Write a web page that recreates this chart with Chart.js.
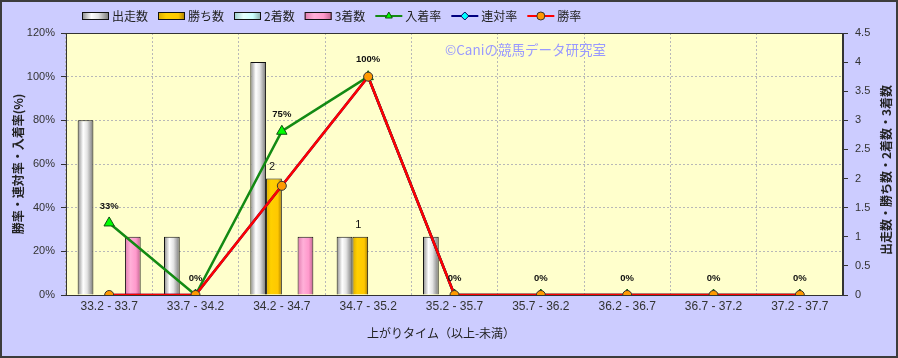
<!DOCTYPE html>
<html lang="ja">
<head>
<meta charset="utf-8">
<title>上がりタイム別成績</title>
<script src="https://cdn.jsdelivr.net/npm/chart.js@4.4.1/dist/chart.umd.min.js"></script>
<style>
  html, body { margin: 0; padding: 0; background: #ccccff; }
  #wrap { width: 898px; height: 358px; }
</style>
</head>
<body>
<div id="wrap"><canvas id="timeChart" width="898" height="358"></canvas></div>
<script>
// 上がりタイム (以上-未満)
const categories = ['33.2 - 33.7', '33.7 - 34.2', '34.2 - 34.7', '34.7 - 35.2', '35.2 - 35.7',
                    '35.7 - 36.2', '36.2 - 36.7', '36.7 - 37.2', '37.2 - 37.7'];

// counts (right axis)
const runs    = [3, 1, 4, 1, 1, 0, 0, 0, 0];
const wins    = [0, 0, 2, 1, 0, 0, 0, 0, 0];
const seconds = [0, 0, 0, 0, 0, 0, 0, 0, 0];
const thirds  = [1, 0, 1, 0, 0, 0, 0, 0, 0];

// rates in % (left axis)
const placeRate    = [33, 0, 75, 100, 0, 0, 0, 0, 0];
const quinellaRate = [0, 0, 50, 100, 0, 0, 0, 0, 0];
const winRate      = [0, 0, 50, 100, 0, 0, 0, 0, 0];

const rateTicks  = [0, 20, 40, 60, 80, 100, 120];
const countTicks = [0, 0.5, 1, 1.5, 2, 2.5, 3, 3.5, 4, 4.5];

const JP = "'Noto Sans CJK JP', sans-serif";
const NUM = "'Liberation Sans', 'Noto Sans CJK JP', sans-serif";

// horizontal shading for the cylinder-ish bars
const shades = {
    runs:    [[0, '#8a8a8a'], [0.35, '#ffffff'], [0.6, '#e4e4e4'], [1, '#767676']],
    wins:    [[0, '#d9a800'], [0.3, '#ffd000'], [0.75, '#ffc800'], [1, '#a67c00']],
    seconds: [[0, '#99cccc'], [0.35, '#e8ffff'], [0.7, '#ccffff'], [1, '#88aaaa']],
    thirds:  [[0, '#e07aae'], [0.35, '#ffb0d8'], [0.7, '#ff99cc'], [1, '#c0648f']]
};

function makeGradient(ctx, x0, x1, stops) {
    const g = ctx.createLinearGradient(x0, 0, x1, 0);
    stops.forEach(s => g.addColorStop(s[0], s[1]));
    return g;
}

const frame = {
    id: 'frame',
    beforeDraw(chart) {
        const { ctx, chartArea: a, width, height } = chart;
        ctx.save();
        ctx.fillStyle = '#ccccff';
        ctx.fillRect(0, 0, width, height);
        ctx.fillStyle = '#ffffcc';
        ctx.fillRect(a.left, a.top, a.right - a.left, a.bottom - a.top);
        ctx.strokeStyle = '#3c3c3c';
        ctx.lineWidth = 2;
        ctx.strokeRect(1, 1, width - 2, height - 2);
        ctx.restore();
    },
    beforeDatasetsDraw(chart) {
        const { ctx, chartArea: a } = chart;
        ctx.save();
        ctx.strokeStyle = '#333';
        ctx.lineWidth = 1;
        ctx.strokeRect(a.left + 0.5, a.top + 0.5, a.right - a.left - 1, a.bottom - a.top);
        // watermark
        ctx.fillStyle = '#9999ff';
        ctx.font = '13.5px ' + JP;
        ctx.textBaseline = 'middle';
        ctx.fillText('©Caniの競馬データ研究室', 445, 50);
        ctx.restore();
    }
};

const barShade = {
    id: 'barShade',
    beforeDatasetsDraw(chart) {
        const ctx = chart.ctx;
        chart.data.datasets.forEach((ds, i) => {
            if (ds.type !== 'bar') return;
            chart.getDatasetMeta(i).data.forEach(bar => {
                const half = bar.width / 2;
                const g = makeGradient(ctx, bar.x - half, bar.x + half, shades[ds.shade]);
                bar.options = Object.assign({}, bar.options, { backgroundColor: g });
            });
        });
    }
};

const valueLabels = {
    id: 'valueLabels',
    afterDatasetsDraw(chart) {
        const ctx = chart.ctx;
        ctx.save();
        ctx.textAlign = 'center';
        ctx.textBaseline = 'middle';
        ctx.fillStyle = '#111';
        chart.data.datasets.forEach((ds, i) => {
            const meta = chart.getDatasetMeta(i);
            if (ds.label === '入着率') {
                ctx.font = 'bold 9.5px ' + NUM;
                meta.data.forEach((pt, j) => ctx.fillText(ds.data[j] + '%', pt.x, pt.y - 17));
            }
            if (ds.label === '勝ち数') {
                ctx.font = '11px ' + NUM;
                meta.data.forEach((bar, j) => {
                    if (ds.data[j] > 0) ctx.fillText(ds.data[j], bar.x - 2, bar.y - 12);
                });
            }
        });
        ctx.restore();
    }
};

const legendAndTitles = {
    id: 'legendAndTitles',
    afterDraw(chart) {
        const { ctx, chartArea: a } = chart;
        ctx.save();
        ctx.font = '12px ' + JP;
        ctx.textBaseline = 'middle';
        let x = 82;
        const y = 16;
        chart.data.datasets.forEach(ds => {
            if (ds.type === 'bar') {
                ctx.fillStyle = makeGradient(ctx, x, x + 27, shades[ds.shade]);
                ctx.fillRect(x, y - 4, 27, 8);
                ctx.strokeStyle = '#111';
                ctx.lineWidth = 1;
                ctx.strokeRect(x + 0.5, y - 3.5, 26, 7);
            } else {
                ctx.strokeStyle = ds.borderColor;
                ctx.lineWidth = 2;
                ctx.beginPath();
                ctx.moveTo(x, y);
                ctx.lineTo(x + 27, y);
                ctx.stroke();
                ctx.fillStyle = ds.pointBackgroundColor;
                ctx.strokeStyle = ds.pointBorderColor;
                ctx.lineWidth = 1;
                Chart.helpers.drawPoint(ctx, { pointStyle: ds.pointStyle, radius: 4, borderWidth: 1 }, x + 13.5, y);
            }
            x += 30;
            ctx.fillStyle = '#222';
            ctx.fillText(ds.label, x, y);
            x += ctx.measureText(ds.label).width + 10;
        });

        // x axis title
        ctx.textAlign = 'center';
        ctx.fillText('上がりタイム（以上-未満）', 441, 333);

        // right axis title, reading bottom to top
        ctx.font = 'bold 12px ' + JP;
        ctx.translate(886, (a.top + a.bottom) / 2 + 6);
        ctx.rotate(-Math.PI / 2);
        ctx.fillText('出走数・勝ち数・2着数・3着数', 0, 0);
        ctx.restore();
    }
};

new Chart(document.getElementById('timeChart'), {
    type: 'bar',
    data: {
        labels: categories,
        datasets: [
            { type: 'bar', label: '出走数', data: runs, shade: 'runs', yAxisID: 'y1', order: 4,
              backgroundColor: '#dddddd', borderColor: '#111', borderWidth: 1 },
            { type: 'bar', label: '勝ち数', data: wins, shade: 'wins', yAxisID: 'y1', order: 4,
              backgroundColor: '#ffcc00', borderColor: '#111', borderWidth: 1 },
            { type: 'bar', label: '2着数', data: seconds, shade: 'seconds', yAxisID: 'y1', order: 4,
              backgroundColor: '#ccffff', borderColor: '#111', borderWidth: 1 },
            { type: 'bar', label: '3着数', data: thirds, shade: 'thirds', yAxisID: 'y1', order: 4,
              backgroundColor: '#ff99cc', borderColor: '#111', borderWidth: 1 },
            { type: 'line', label: '入着率', data: placeRate, yAxisID: 'y', order: 3,
              borderColor: '#138a13', borderWidth: 2.5, pointStyle: 'triangle', pointRadius: 6,
              pointBackgroundColor: '#00ff00', pointBorderColor: '#105010', pointBorderWidth: 1 },
            { type: 'line', label: '連対率', data: quinellaRate, yAxisID: 'y', order: 2,
              borderColor: '#000080', borderWidth: 2.5, pointStyle: 'rectRot', pointRadius: 4,
              pointBackgroundColor: '#00ffff', pointBorderColor: '#000060', pointBorderWidth: 1 },
            { type: 'line', label: '勝率', data: winRate, yAxisID: 'y', order: 1,
              borderColor: '#ff0000', borderWidth: 2.5, pointStyle: 'circle', pointRadius: 4.5,
              pointBackgroundColor: '#ff9900', pointBorderColor: '#333', pointBorderWidth: 1 }
        ]
    },
    options: {
        responsive: false,
        animation: false,
        layout: { padding: { top: 33, left: 0, right: 0, bottom: 0 } },
        datasets: { bar: { categoryPercentage: 0.73, barPercentage: 1 } },
        plugins: { legend: { display: false }, tooltip: { enabled: false } },
        scales: {
            x: {
                offset: true,
                grid: { offset: true, color: '#b8b8b8', drawTicks: false },
                border: { color: '#333', dash: [2, 2] },
                ticks: { color: '#333', font: { family: NUM, size: 12 }, padding: 4, maxRotation: 0, autoSkip: false },
                afterFit: s => { s.height = 63; }
            },
            y: {
                position: 'left',
                min: 0, max: 120,
                afterBuildTicks: s => { s.ticks = rateTicks.map(v => ({ value: v })); },
                grid: { color: '#b8b8b8', tickColor: '#333', tickLength: 5 },
                border: { color: '#333', dash: [2, 2] },
                ticks: { color: '#333', font: { family: NUM, size: 11 }, padding: 6, callback: v => v + '%' },
                title: { display: true, text: '勝率・連対率・入着率(%)', color: '#222',
                         font: { family: JP, size: 12, weight: 'bold' }, padding: { top: 11, bottom: 0 } },
                afterFit: s => { s.width = 66; }
            },
            y1: {
                position: 'right',
                min: 0, max: 4.5,
                afterBuildTicks: s => { s.ticks = countTicks.map(v => ({ value: v })); },
                grid: { drawOnChartArea: false, tickColor: '#333', tickLength: 5 },
                border: { color: '#333' },
                ticks: { color: '#333', font: { family: NUM, size: 11 }, padding: 7, callback: v => String(v) },
                afterFit: s => { s.width = 55; }
            }
        }
    },
    plugins: [frame, barShade, valueLabels, legendAndTitles]
});
</script>
</body>
</html>
